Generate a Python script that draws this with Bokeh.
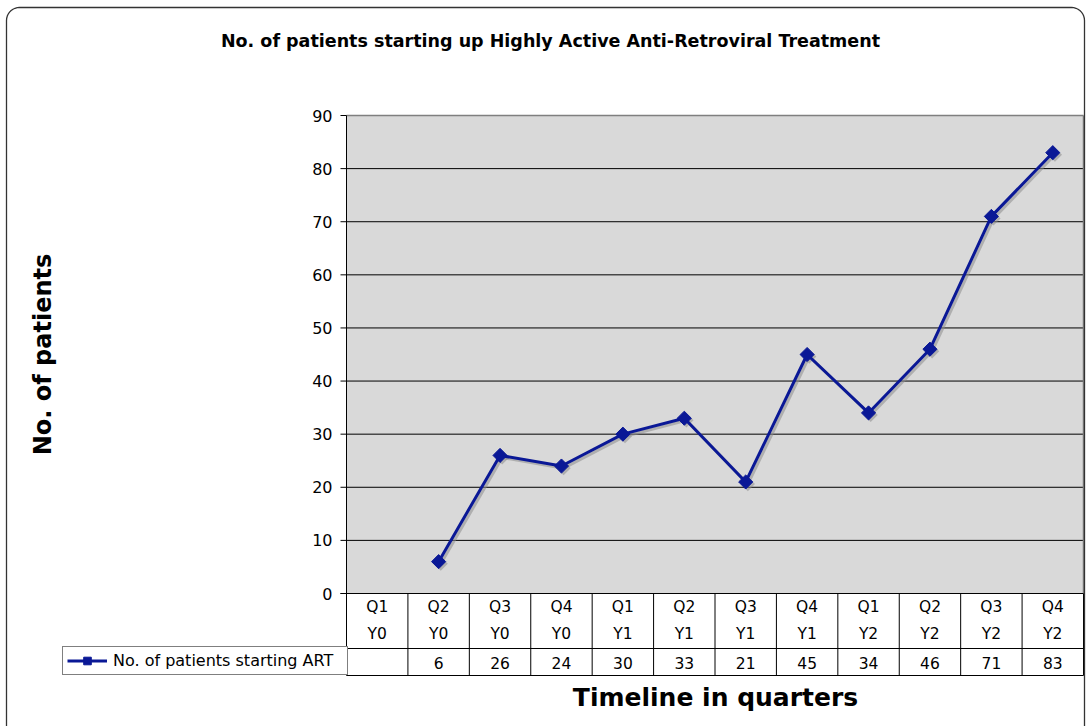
import math
from bokeh.plotting import figure
from bokeh.models import Range1d, Legend, LegendItem, ColumnDataSource
from bokeh.transform import dodge
from bokeh.core.properties import value
from bokeh.embed import file_html
from bokeh.resources import INLINE

# ---------------- data ----------------
title_text = "No. of patients starting up Highly Active Anti-Retroviral Treatment"
y_label = "No. of patients"
x_label = "Timeline in quarters"
series_name = "No. of patients starting ART"
quarters = ["Q1", "Q2", "Q3", "Q4", "Q1", "Q2", "Q3", "Q4", "Q1", "Q2", "Q3", "Q4"]
years = ["Y0", "Y0", "Y0", "Y0", "Y1", "Y1", "Y1", "Y1", "Y2", "Y2", "Y2", "Y2"]
patients = [None, 6, 26, 24, 30, 33, 21, 45, 34, 46, 71, 83]
y_ticks = [0, 10, 20, 30, 40, 50, 60, 70, 80, 90]

# ---------------- layout (pixels) ----------------
W, H = 1086, 726
PL, PR = 346, 1083          # plot area left / right
PT, P0 = 115, 593           # pixel rows of top tick and of 0
ROW_DIV, TBL_BOT = 648, 675 # data-table row divider and bottom
LEG_L = 62                  # left edge of legend cell
n = len(quarters)
Y_MAX = y_ticks[-1]
kx = (PR - PL) / n
ky = (P0 - PT) / Y_MAX


def fx(px):
    return (px - PL) / kx


def fy(py):
    return (P0 - py) / ky


FONT = "DejaVu Sans"
LINE_COLOR = "#0a1896"
GRAY_BG = "#d9d9d9"

p = figure(width=W, height=H, x_range=Range1d(fx(0), fx(W)), y_range=Range1d(fy(H), fy(0)),
           x_axis_location=None, y_axis_location=None, output_backend="svg",
           toolbar_location=None, min_border=0)
p.background_fill_color = "white"
p.border_fill_color = "white"
p.outline_line_color = None
p.grid.visible = False

# gray plot area
p.quad(left=[0], right=[n], bottom=[0], top=[Y_MAX], fill_color=GRAY_BG, line_color=None)

# horizontal grid lines
inner = y_ticks[1:-1]
p.segment(x0=[0] * len(inner), y0=inner, x1=[n] * len(inner), y1=inner,
          line_color="black", line_width=1)
# top and right border of plot area
p.segment(x0=[0, n], y0=[Y_MAX, 0], x1=[n, n], y1=[Y_MAX, Y_MAX],
          line_color="#7f7f7f", line_width=1.5)

# y axis: tick marks, axis line, tick labels
p.segment(x0=[fx(PL - 6)] * len(y_ticks), y0=y_ticks, x1=[0] * len(y_ticks), y1=y_ticks,
          line_color="black", line_width=1)
p.segment(x0=[0, fx(PL - 6)], y0=[fy(TBL_BOT), 0], x1=[0, n], y1=[Y_MAX, 0],
          line_color="black", line_width=1)
p.text(x=[fx(PL - 14)] * len(y_ticks), y=y_ticks, text=[str(t) for t in y_ticks],
       text_font=value(FONT), text_font_size=value("16px"), text_color="black",
       text_align="right", text_baseline="middle")
p.text(x=[fx(42)], y=[(y_ticks[0] + y_ticks[-1]) / 2], text=[y_label], angle=math.pi / 2,
       text_font=value(FONT), text_font_size=value("24px"), text_font_style="bold",
       text_color="black", text_align="center", text_baseline="middle")

# data table below the plot area
p.segment(x0=list(range(1, n + 1)), y0=[0] * n, x1=list(range(1, n + 1)),
          y1=[fy(TBL_BOT)] * n, line_color="black", line_width=1)
p.segment(x0=[0, 0], y0=[fy(ROW_DIV), fy(TBL_BOT)], x1=[n, n],
          y1=[fy(ROW_DIV), fy(TBL_BOT)], line_color="black", line_width=1)

cx = [i + 0.5 for i in range(n)]
tsrc = ColumnDataSource(dict(x=cx, q=quarters, yr=years,
                             v=["" if v is None else str(v) for v in patients]))
txt_kw = dict(text_font=value(FONT), text_font_size=value("15.5px"), text_color="black",
              text_align="center", text_baseline="middle")
p.text(x="x", y=fy(606), text="q", source=tsrc, **txt_kw)
p.text(x="x", y=fy(633), text="yr", source=tsrc, **txt_kw)
p.text(x="x", y=fy(662), text="v", source=tsrc, **txt_kw)

# series (with soft shadow)
xs = [i + 0.5 for i, v in enumerate(patients) if v is not None]
ys = [v for v in patients if v is not None]
src = ColumnDataSource(dict(x=xs, y=ys))
p.line(x=dodge("x", 0.035), y=dodge("y", -0.4), source=src, line_color="#8c8c8c",
       line_width=3, line_alpha=0.55)
p.scatter(x=dodge("x", 0.035), y=dodge("y", -0.4), source=src, marker="square",
          angle=math.pi / 4, size=10, fill_color="#8c8c8c", line_color=None, fill_alpha=0.55)
lr = p.line(x="x", y="y", source=src, line_color=LINE_COLOR, line_width=3)
mr = p.scatter(x="x", y="y", source=src, marker="square", angle=math.pi / 4, size=10,
               fill_color=LINE_COLOR, line_color=LINE_COLOR)

legend = Legend(items=[LegendItem(label=series_name, renderers=[lr, mr])],
                location=(LEG_L, H - TBL_BOT), orientation="vertical",
                padding=4, spacing=0, margin=0, glyph_width=40, glyph_height=19,
                label_height=19, label_width=230, label_standoff=6,
                label_text_font=FONT, label_text_font_size="16px",
                label_text_color="black", border_line_color="black",
                border_line_width=1, background_fill_color="white",
                background_fill_alpha=1)
p.add_layout(legend, "center")

# title and x label
p.text(x=[fx(550)], y=[fy(40)], text=[title_text], text_align="center",
       text_baseline="middle", text_font=value(FONT), text_font_size=value("17.5px"),
       text_font_style="bold", text_color="black")
p.text(x=[fx(715)], y=[fy(697)], text=[x_label], text_align="center",
       text_baseline="middle", text_font=value(FONT), text_font_size=value("25px"),
       text_font_style="bold", text_color="black")

# rounded outer chart border
bx0, by0, bx1, by1, rad = 6, 7, 1084, 740, 13
pts = []
for cxp, cyp, a0 in [(bx1 - rad, by0 + rad, -90), (bx1 - rad, by1 - rad, 0),
                     (bx0 + rad, by1 - rad, 90), (bx0 + rad, by0 + rad, 180)]:
    for k in range(0, 10):
        a = math.radians(a0 + k * 10)
        pts.append((cxp + rad * math.cos(a), cyp + rad * math.sin(a)))
pts.append(pts[0])
p.line(x=[fx(a) for a, b in pts], y=[fy(b) for a, b in pts], line_color="#333333",
       line_width=1.3)

open("out.html", "w").write(file_html(p, INLINE))
